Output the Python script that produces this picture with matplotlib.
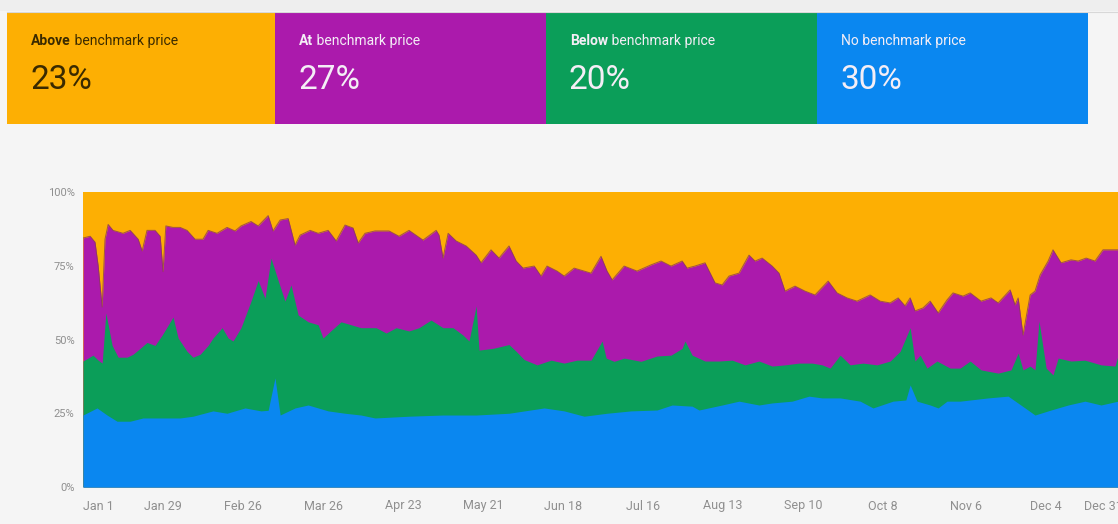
import matplotlib
matplotlib.use('Agg')
import matplotlib.pyplot as plt
from matplotlib.patches import Rectangle
import pandas as pd

plt.rcParams['font.family'] = ['Roboto', 'DejaVu Sans']

# 卡片数据
card_bold = ['Above', 'At', 'Below', '']
card_rest = [' benchmark price', ' benchmark price', ' benchmark price', 'No benchmark price']
card_pct = [23, 27, 20, 30]
colors = ['#FDAF03', '#AB1AAC', '#0B9E59', '#0A87F0']

# 曲线数据（天数 = 距 1 月 1 日的天数，数值为累计百分比）
# 蓝色顶部：无基准价
days_none = [0, 4.9, 8.4, 11.9, 16.5, 21, 28, 34, 38.5, 45.5, 50.4, 56.7, 62.3, 64.8, 67.2, 69,
             74.2, 78.8, 85.8, 91.7, 97.3, 102.2, 114.1, 126, 137.6, 149.1, 161.4, 168.4, 175.4,
             183.4, 191.8, 200.9, 206.2, 213.2, 215.6, 223.7, 229.6, 236.6, 241.2, 248.2, 254.1,
             258.7, 265, 272, 276.5, 283.5, 288, 289.5, 291.9, 296.5, 299.3, 302.4, 307, 316.8,
             323.8, 329.7, 333.2, 338.8, 344.8, 350.7, 356.3, 362.3, 364]
pct_none = [24.4, 26.8, 24.4, 22.3, 22.3, 23.4, 23.4, 23.4, 24, 25.8, 25, 26.8, 25.8, 26, 37, 24.4,
            26.8, 27.8, 25.8, 25, 24.4, 23.4, 24, 24.4, 24.4, 25, 26.8, 25.8, 24,
            25, 25.8, 26.1, 27.8, 27.4, 26.1, 27.8, 29.1, 27.8, 28.5, 29.1, 30.8,
            30.2, 30.2, 29.1, 26.8, 29.1, 29.5, 34.6, 29.1, 27.8, 26.8, 29.1, 29.1, 30.2,
            30.8, 26.8, 24.4, 26.1, 27.8, 29.1, 27.8, 29.1, 29.1]

# 绿色顶部：低于基准价 + 无基准价
days_below = [0, 3.5, 5.3, 6.7, 8, 10.2, 12.3, 15.4, 17.5, 20, 22.4, 25.2, 27.7, 31.5, 33.3, 36.4,
              38.5, 41, 43.8, 45.5, 48.7, 50.8, 52.5, 55.3, 58.8, 61.3, 63.7, 65.8, 68.3, 70.7,
              72.8, 75.3, 78.8, 82.3, 84, 86.8, 90.3, 93.8, 97.3, 102.6, 106.1, 109.6, 114.1,
              117.6, 121.8, 126, 129.5, 133, 135.1, 137.6, 138.6, 143.5, 147, 149.1, 151.6, 154.4,
              158.9, 163.8, 168.4, 172.9, 177.8, 181.7, 183.1, 185.9, 189.4, 195.3, 200.9, 205.8,
              209.7, 210.7, 213.2, 217.7, 222.6, 227.2, 231.7, 236.6, 241.2, 245.7, 250.6, 255.2,
              258.7, 261.5, 265, 268.5, 273, 277.9, 282.5, 286, 289.5, 291.2, 293, 295.4, 298.9,
              303.5, 307, 310.5, 314.3, 320.3, 324.8, 327.3, 329, 331.5, 333.2, 334.6, 337.1,
              339.5, 341.3, 345.8, 350.7, 356.3, 361.2, 362.3, 364]
pct_below = [42.7, 44.7, 43, 42, 59, 48, 44, 44, 45, 47, 49, 48, 51.5, 57.6, 50.5, 46,
             44, 45, 48, 50.5, 54, 50.5, 49.5, 54, 63, 70, 64, 77.6, 70, 63,
             68.5, 58.3, 56, 55, 50.5, 53, 56, 55, 54, 54, 52.2, 54, 52.9,
             54, 56.6, 54, 54, 51.5, 49.5, 61.4, 46.4, 47, 47.8, 48.3, 46, 43.2,
             41.4, 43, 42, 43, 43, 49.5, 43.7, 42.6, 43.7, 42.6, 44.4, 44.7,
             47, 49.5, 44.7, 42.7, 42.7, 43, 41.4, 42.7, 41, 41.4, 42, 42,
             41.4, 40.3, 44.7, 41.4, 42, 41.4, 42.7, 46, 54, 42.7, 44.7, 40.3, 42.7,
             40.3, 40.3, 42.7, 39.7, 38.6, 39.7, 45.4, 39.7, 41, 39.7, 56.3, 40.3,
             38, 43.7, 42.7, 43, 41.4, 41, 44.7, 44.7]

# 紫色顶部：等于基准价 + 低于 + 无基准价
days_at = [0, 2.5, 4.2, 5.3, 6.7, 7.7, 8.8, 10.5, 14, 16.5, 19.3, 20.7, 22.4, 25.2, 27, 28, 29,
           31.5, 34, 36.4, 39.2, 42, 43.8, 46.9, 50.4, 53.2, 55.3, 58.8, 61.3, 64.8, 66.5, 69,
           71.8, 74.2, 76, 79.5, 82.3, 85.8, 88.6, 91.7, 94.5, 96.3, 98.7, 102.2, 107.1, 110.6,
           114.1, 119, 123.6, 124.6, 126, 127.8, 130.6, 134.1, 137.6, 139.3, 142.8, 145.6, 149.1,
           151.6, 154, 157.9, 160.3, 162.4, 165.9, 168.4, 171.9, 177.8, 181.3, 183.4, 185.2,
           189.4, 193.9, 198.8, 202.3, 205.8, 209.7, 211.4, 214.2, 217.7, 221.2, 223.7, 226.1,
           229.6, 233.1, 235.2, 237.7, 241.2, 243.6, 245.7, 249.2, 252.7, 256.2, 260.8, 263.9,
           267.4, 270.9, 275.5, 279, 282.5, 285.3, 287.7, 289.5, 291.2, 294, 296.5, 299.3, 302.4,
           304.5, 308, 310.5, 314.3, 317.8, 320.3, 324.5, 326.2, 327.3, 329, 331.5, 333.2, 335,
           337.8, 339.5, 342.3, 345.8, 348.3, 351.1, 354.2, 357, 362.3, 364]
pct_at = [84.4, 85, 83, 75, 61, 84, 89, 87, 86, 87, 84, 80, 87, 87, 85, 73, 88.5,
          88, 88, 87, 84, 84, 87, 86, 88, 86.8, 88.5, 90, 88.5, 92, 86.8, 90.5,
          91, 82, 85.4, 87, 86, 87, 83.4, 88.8, 87.8, 82.7, 86, 86.8, 86.8, 85,
          87, 83.7, 87, 85.4, 77.6, 86, 83.4, 81.7, 78.6, 76, 80.4, 77.6, 81.7,
          76.6, 74.2, 74.9, 71.5, 74.9, 73.2, 71.5, 74.2, 72.5, 78.2, 73.2, 70.2,
          74.9, 73.2, 75.3, 76.6, 74.9, 76.6, 74.2, 74.9, 76, 69.2, 68.5, 71.5,
          72.5, 78.6, 76.6, 77.6, 74.9, 72.5, 66.4, 68.1, 66.4, 65.1, 69.8, 65.8,
          64.1, 63, 65.1, 63, 62.4, 64.1, 61.4, 64.1, 59.7, 60.7, 63, 59, 63.4,
          65.8, 64.7, 65.8, 63, 64.1, 62.4, 66.8, 61.7, 64.1, 51.5, 65.1, 66.4, 71.9,
          76.6, 80.4, 76, 77, 76.6, 77.6, 76.6, 80.4, 80.4, 80.4]

tick_dates = ['2018-01-01', '2018-01-29', '2018-02-26', '2018-03-26', '2018-04-23', '2018-05-21',
              '2018-06-18', '2018-07-16', '2018-08-13', '2018-09-10', '2018-10-08', '2018-11-06',
              '2018-12-04', '2018-12-31']
y_ticks = [0, 25, 50, 75, 100]

fig = plt.figure(figsize=(11.18, 5.24), dpi=100)
fig.patch.set_facecolor('#f5f5f5')

# 顶部卡片（像素坐标）
hdr = fig.add_axes([0, 0, 1, 1])
hdr.set_xlim(0, 1118)
hdr.set_ylim(524, 0)
hdr.axis('off')
hdr.add_patch(Rectangle((0, 0), 1118, 11, color='#eeeeee', lw=0))
hdr.plot([7, 1118], [11.5, 11.5], color='#d8d8d8', lw=0.8)
card_w = 271
for i in range(4):
    x0 = 275 + (i - 1) * card_w if i > 0 else 7
    w = 268 if i == 0 else card_w
    hdr.add_patch(Rectangle((x0, 12), w, 112, color=colors[i], lw=0))
    tc = '#3a2a00' if i == 0 else '#f4eef6'
    tx = x0 + 24
    if card_bold[i]:
        t1 = hdr.text(tx, 45, card_bold[i], fontsize=10, fontweight='bold', color=tc,
                      va='baseline', ha='left')
        hdr.annotate(card_rest[i], xy=(1, 0), xycoords=t1, va='bottom', ha='left',
                     fontsize=10, color=tc)
    else:
        hdr.text(tx, 45, card_rest[i], fontsize=10, color=tc, va='baseline', ha='left')
    hdr.text(tx - 1, 89, '{}%'.format(card_pct[i]), fontsize=24, fontweight='normal',
             color=tc, va='baseline', ha='left')

# 面积图
ax = fig.add_axes([83 / 1118, 1 - 487 / 524, 1040 / 1118, 295 / 524])
start = pd.Timestamp('2018-01-01')
ticks = [(pd.Timestamp(d) - start).days for d in tick_dates]
ax.fill_between([0, 364], 0, 100, color=colors[0], lw=0)
ax.fill_between(days_at, 0, pct_at, color=colors[1], lw=0)
ax.plot(days_at, pct_at, color='#8a3d55', lw=0.7, alpha=0.8)
ax.fill_between(days_below, 0, pct_below, color=colors[2], lw=0)
ax.fill_between(days_none, 0, pct_none, color=colors[3], lw=0)
ax.set_xlim(0, 364)
ax.set_ylim(0, 100)

for s in ax.spines.values():
    s.set_visible(False)
ax.set_yticks(y_ticks)
ax.set_yticklabels(['{}%'.format(v) for v in y_ticks])
ax.set_xticks(ticks)
ax.set_xticklabels([pd.Timestamp(d).strftime('%b ') + str(pd.Timestamp(d).day) for d in tick_dates])
ax.tick_params(axis='both', length=0, colors='#8f8f8f')
ax.tick_params(axis='y', labelsize=8, pad=6)
ax.tick_params(axis='x', labelsize=9, pad=9)
xl = ax.get_xticklabels()
xl[0].set_ha('left')
xl[-1].set_ha('right')

fig.savefig('out.png', dpi=100, facecolor=fig.get_facecolor())
